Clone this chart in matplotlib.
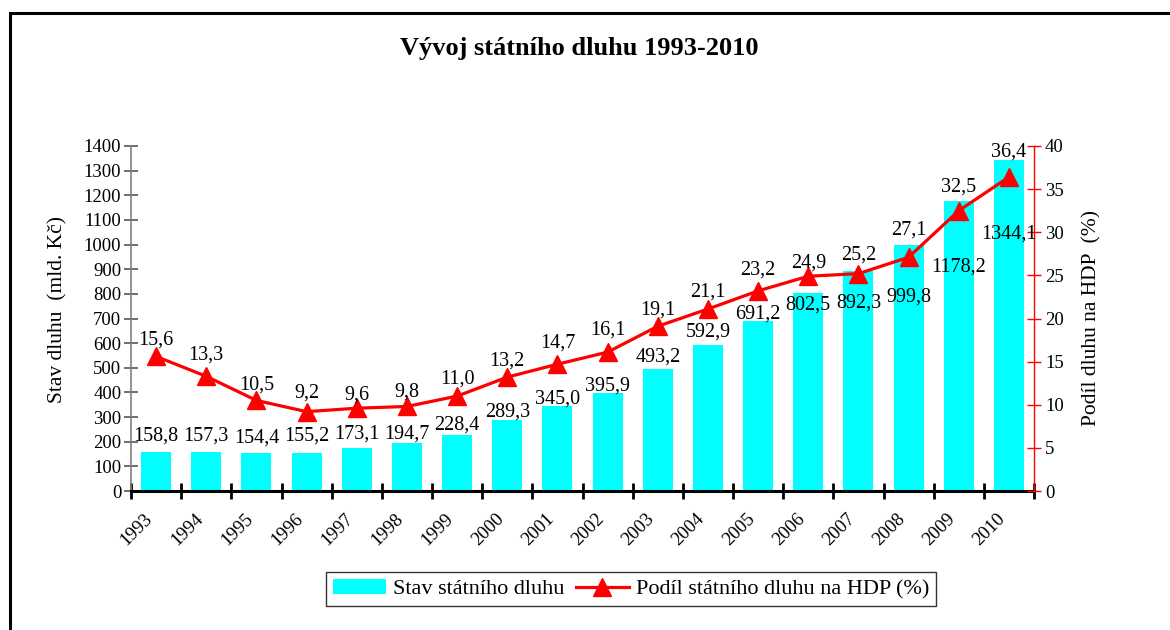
import matplotlib
matplotlib.use("Agg")
import matplotlib.pyplot as plt
from matplotlib.patches import Rectangle
from matplotlib.ticker import FixedLocator, NullFormatter
from matplotlib.transforms import ScaledTranslation

plt.rcParams['font.family'] = ['Liberation Serif', 'DejaVu Serif']

# ---- data ----
years = ['1993', '1994', '1995', '1996', '1997', '1998', '1999', '2000', '2001',
         '2002', '2003', '2004', '2005', '2006', '2007', '2008', '2009', '2010']
debt = [158.8, 157.3, 154.4, 155.2, 173.1, 194.7, 228.4, 289.3, 345.0,
        395.9, 493.2, 592.9, 691.2, 802.5, 892.3, 999.8, 1178.2, 1344.1]
debt_gdp = [15.6, 13.3, 10.5, 9.2, 9.6, 9.8, 11.0, 13.2, 14.7,
            16.1, 19.1, 21.1, 23.2, 24.9, 25.2, 27.1, 32.5, 36.4]
left_ticks = list(range(0, 1401, 100))
right_ticks = list(range(0, 41, 5))

# label placement (positions, in axis units) as in the reference
bar_label_pos = [223, 223, 216, 223, 233, 233, 266, 320, 374, 425,
                 542, 643, 720, 753, 763, 789, 909, 1044]
line_label_pos = [17.5, 15.8, 12.3, 11.3, 11.1, 11.5, 13.0, 15.1, 17.1,
                  18.7, 21.0, 23.1, 25.6, 26.4, 27.4, 30.2, 35.2, 39.3]


def fmt(v):
    return f"{v:.1f}".replace('.', ',')


fig = plt.figure(figsize=(11.7, 6.3), dpi=100)
ax = fig.add_axes([131 / 1170, 1 - 491 / 630, (1034 - 131) / 1170, (491 - 146) / 630])
ax2 = ax.twinx()

x = list(range(len(years)))
ax.bar(x, debt, width=0.6, color='#00FFFF', label='Stav státního dluhu', zorder=2)
ax.set_xlim(-0.5, len(years) - 0.5)
ax.set_ylim(0, 1400)
ax.set_yticks(left_ticks)
ax2.set_ylim(0, 40)
ax2.set_yticks(right_ticks)

line, = ax2.plot(x, debt_gdp, color='#FF0000', lw=2.3, marker='^', markersize=13,
                 label='Podíl státního dluhu na HDP (%)', zorder=3)

# x axis ticks at category boundaries, labels at centers
ax.set_xticks(x)
ax.set_xticklabels(years, rotation=45, ha='right', va='center',
                   rotation_mode='anchor', fontsize=13.5)
ax.tick_params(axis='x', which='major', length=0, pad=18)
shift = ScaledTranslation(-6 / 100, 0, fig.dpi_scale_trans)
for lab in ax.get_xticklabels():
    lab.set_transform(lab.get_transform() + shift)
ax.xaxis.set_minor_locator(FixedLocator([i - 0.5 for i in range(len(years) + 1)]))
ax.xaxis.set_minor_formatter(NullFormatter())
ax.tick_params(axis='x', which='minor', direction='inout', length=11, width=2, color='black')

for s in ['top']:
    ax.spines[s].set_visible(False)
    ax2.spines[s].set_visible(False)
ax.spines['bottom'].set_linewidth(2.2)
ax.spines['bottom'].set_color('black')
ax.spines['left'].set_color('#808080')
ax.spines['left'].set_linewidth(1.2)
ax.spines['right'].set_visible(False)
ax2.spines['left'].set_visible(False)
ax2.spines['bottom'].set_visible(False)
ax2.spines['right'].set_color('#FF0000')
ax2.spines['right'].set_linewidth(1.0)

ax.tick_params(axis='y', direction='inout', length=10, width=1.2, color='#555555',
               labelsize=13.5, pad=2)
ax2.tick_params(axis='y', direction='inout', length=10, width=1.0, color='#FF0000',
                labelsize=13.5, pad=3)

ax.set_ylabel('Stav dluhu  (mld. Kč)', fontsize=15.5)
ax.yaxis.set_label_coords(-0.070, 0.525)
ax2.set_ylabel('Podíl dluhu na HDP  (%)', fontsize=15.5, labelpad=13)

# data labels
for xi, v, p in zip(x, debt, bar_label_pos):
    ax2.text(xi, p, fmt(v), transform=ax.transData, ha='center', va='center',
             fontsize=14.5, zorder=5)
for xi, v, p in zip(x, debt_gdp, line_label_pos):
    ax2.text(xi, p, fmt(v), ha='center', va='center', fontsize=14.5, zorder=5)

fig.text(0.495, 1 - 49 / 630, 'Vývoj státního dluhu 1993-2010', ha='center', va='center',
         fontsize=19, fontweight='bold')

h1, l1 = ax.get_legend_handles_labels()
h2, l2 = ax2.get_legend_handles_labels()
leg = fig.legend(h1 + h2, l1 + l2, loc='center', bbox_to_anchor=(631 / 1170, 1 - 589 / 630),
                 ncol=2, frameon=True, fancybox=False, fontsize=16, handlelength=2.4,
                 columnspacing=0.5, handletextpad=0.3, borderpad=0.3, borderaxespad=0)
leg.get_frame().set_edgecolor('black')
leg.get_frame().set_linewidth(1.0)

# outer chart border
fig.patches.append(Rectangle((10 / 1170, -0.2), 1.2, 1.2 - 13 / 630, transform=fig.transFigure,
                             fill=False, edgecolor='black', linewidth=2.2))

fig.savefig('out.png', dpi=100)
